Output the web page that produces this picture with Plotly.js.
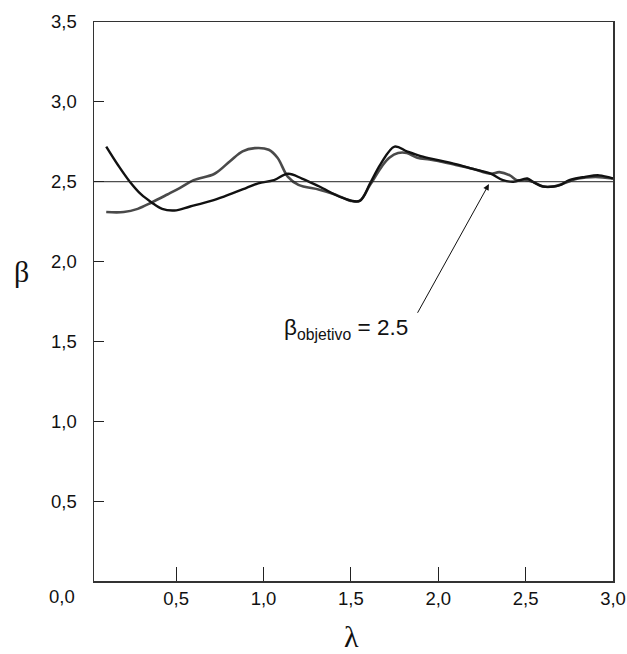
<!DOCTYPE html>
<html>
<head>
<meta charset="utf-8">
<script src="https://cdn.plot.ly/plotly-3.0.1.min.js"></script>
<style>html,body{margin:0;padding:0;background:#fff;}#chart{width:627px;height:654px;}</style>
</head>
<body>
<div id="chart"></div>
<script>
// Curve A (black, starts high)
const lambdaA = [0.10, 0.17, 0.235, 0.30, 0.36, 0.42, 0.49, 0.58, 0.70, 0.78, 0.90, 0.97, 1.06, 1.14, 1.22, 1.32, 1.45, 1.55, 1.61, 1.67, 1.75, 1.82, 1.90, 2.00, 2.10, 2.20, 2.30, 2.37, 2.43, 2.51, 2.54, 2.60, 2.66, 2.70, 2.75, 2.84, 2.92, 3.00];
const betaA   = [2.72, 2.60, 2.50, 2.42, 2.37, 2.33, 2.32, 2.345, 2.38, 2.41, 2.46, 2.49, 2.51, 2.55, 2.52, 2.47, 2.40, 2.38, 2.49, 2.61, 2.72, 2.69, 2.66, 2.635, 2.61, 2.58, 2.55, 2.51, 2.50, 2.52, 2.50, 2.47, 2.47, 2.48, 2.51, 2.53, 2.54, 2.52];
// Curve B (dark grey, starts low)
const lambdaB = [0.10, 0.20, 0.28, 0.36, 0.45, 0.52, 0.60, 0.72, 0.81, 0.88, 0.95, 1.03, 1.08, 1.14, 1.20, 1.32, 1.41, 1.50, 1.55, 1.61, 1.68, 1.72, 1.77, 1.82, 1.88, 1.95, 2.00, 2.10, 2.20, 2.30, 2.35, 2.41, 2.45, 2.50, 2.54, 2.60, 2.66, 2.72, 2.80, 2.90, 3.00];
const betaB   = [2.31, 2.31, 2.33, 2.37, 2.42, 2.46, 2.51, 2.55, 2.63, 2.69, 2.71, 2.70, 2.65, 2.53, 2.48, 2.45, 2.42, 2.38, 2.38, 2.48, 2.60, 2.65, 2.68, 2.68, 2.65, 2.64, 2.63, 2.605, 2.58, 2.55, 2.56, 2.54, 2.51, 2.51, 2.50, 2.47, 2.47, 2.49, 2.52, 2.53, 2.52];
const betaTarget = 2.5;
const xTickVals = [0.5, 1.0, 1.5, 2.0, 2.5, 3.0];
const xTickText = ['0,5', '1,0', '1,5', '2,0', '2,5', '3,0'];
const yTickVals = [0.5, 1.0, 1.5, 2.0, 2.5, 3.0, 3.5];
const yTickText = ['0,5', '1,0', '1,5', '2,0', '2,5', '3,0', '3,5'];

const traces = [
  {x: lambdaB, y: betaB, mode: 'lines', line: {color: '#4a4a4a', width: 2.6, shape: 'spline', smoothing: 1}, hoverinfo: 'skip'},
  {x: lambdaA, y: betaA, mode: 'lines', line: {color: '#111111', width: 2.4, shape: 'spline', smoothing: 1}, hoverinfo: 'skip'}
];

const tickFont = {family: 'Liberation Sans, Arial, sans-serif', size: 18.5, color: '#111'};
const serifFont = {family: 'Liberation Serif, Times New Roman, serif', size: 30, color: '#111'};
const layout = {
  width: 627, height: 654,
  margin: {l: 94, r: 14, t: 22, b: 73},
  paper_bgcolor: '#fff', plot_bgcolor: '#fff',
  showlegend: false,
  xaxis: {
    range: [0.03, 3.0], tickmode: 'array', tickvals: xTickVals, ticktext: xTickText,
    ticks: 'inside', ticklen: 14, tickcolor: '#222', tickwidth: 1,
    showline: true, linecolor: '#333', linewidth: 1.5, mirror: true,
    showgrid: false, zeroline: false, tickfont: tickFont, ticklabelstandoff: 0
  },
  yaxis: {
    range: [0, 3.5], tickmode: 'array', tickvals: yTickVals, ticktext: yTickText,
    ticks: 'inside', ticklen: 10, tickcolor: '#222', tickwidth: 1,
    showline: true, linecolor: '#333', linewidth: 1.5, mirror: true,
    showgrid: false, zeroline: false, tickfont: tickFont, ticklabelstandoff: 12
  },
  shapes: [
    {type: 'line', xref: 'paper', x0: 0, x1: 1, yref: 'y', y0: betaTarget, y1: betaTarget, line: {color: '#222', width: 1}}
  ],
  annotations: [
    {xref: 'x', yref: 'y', x: 2.29, y: 2.485, axref: 'x', ayref: 'y', ax: 1.877, ay: 1.67,
     text: '', showarrow: true, arrowhead: 2, arrowsize: 1.2, arrowwidth: 1, arrowcolor: '#111'},
    {xref: 'x', yref: 'y', x: 1.471, y: 1.58, text: 'β<sub>objetivo</sub> = 2.5', showarrow: false,
     font: {family: 'Liberation Sans, Arial, sans-serif', size: 22.5, color: '#111'}},
    {xref: 'paper', yref: 'paper', x: -0.033, y: -0.027, xanchor: 'right', yanchor: 'middle', text: '0,0',
     showarrow: false, font: tickFont},
    {xref: 'paper', yref: 'paper', x: -0.139, y: 0.553, xanchor: 'center', yanchor: 'middle', text: 'β',
     showarrow: false, font: serifFont},
    {xref: 'paper', yref: 'paper', x: 0.497, y: -0.100, xanchor: 'center', yanchor: 'middle', text: 'λ',
     showarrow: false, font: serifFont}
  ]
};
Plotly.newPlot('chart', traces, layout, {displayModeBar: false, staticPlot: true});
</script>
</body>
</html>
